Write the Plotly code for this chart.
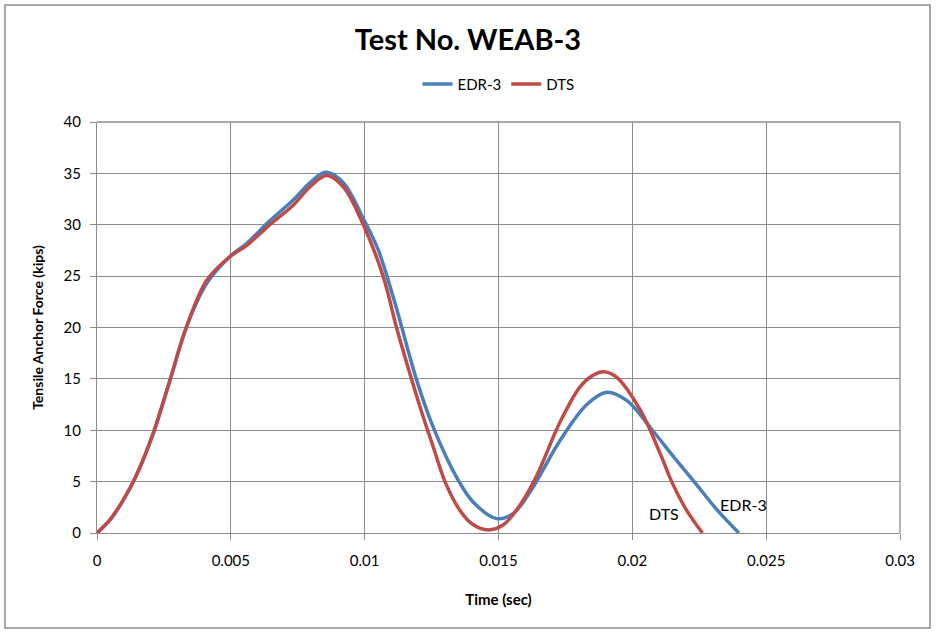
import plotly.graph_objects as go

# EDR-3 (blue) readings
edr_t = [0, 0.00049, 0.00098, 0.00145, 0.0021, 0.00273, 0.00335, 0.0041, 0.00497, 0.0056,
         0.00646, 0.00733, 0.00796, 0.00855, 0.0092, 0.00995, 0.0105, 0.01113,
         0.01194, 0.01256, 0.01344, 0.01406, 0.01493, 0.01555, 0.01618,
         0.0173, 0.0183, 0.01904, 0.01979, 0.02075, 0.02158,
         0.0224, 0.02315, 0.02398]
edr_f = [0, 1.3, 3.2, 5.5, 9.7, 14.9, 20.1, 24.3, 26.9, 28.2,
         30.4, 32.4, 34.1, 35.1, 34.1, 30.6, 27.6, 22.4,
         14.9, 10.3, 5.4, 3.0, 1.4, 1.9, 4.0,
         9.0, 12.5, 13.7, 12.9, 10.0, 7.3,
         4.7, 2.3, 0]

# DTS (red) readings
dts_t = [0, 0.00049, 0.00098, 0.00145, 0.0021, 0.00273, 0.00335, 0.0041, 0.00497, 0.0056,
         0.00646, 0.00733, 0.00796, 0.00858, 0.0092, 0.00995, 0.0107, 0.0112, 0.01176,
         0.01225, 0.01256, 0.013, 0.01356, 0.01406, 0.01462, 0.01518, 0.0158, 0.01643,
         0.0173, 0.01804, 0.0185, 0.01892, 0.0194, 0.02029, 0.02103, 0.02147, 0.02203,
         0.02262]
dts_f = [0, 1.3, 3.2, 5.5, 9.7, 14.9, 20.1, 24.6, 26.9, 28.0,
         30.0, 31.9, 33.7, 34.8, 33.7, 30.0, 24.9, 19.9, 14.9,
         10.8, 8.4, 5.0, 2.2, 0.8, 0.3, 0.8, 2.7, 5.6,
         10.8, 14.2, 15.3, 15.7, 15.2, 12.0, 7.8, 5.0, 2.2,
         0]

x_ticks = [0, 0.005, 0.01, 0.015, 0.02, 0.025, 0.03]
x_labels = ["0", "0.005", "0.01", "0.015", "0.02", "0.025", "0.03"]
y_ticks = [0, 5, 10, 15, 20, 25, 30, 35, 40]

FONT = "Lato"
GRID = "#8c8c8c"

fig = go.Figure()
fig.add_trace(go.Scatter(x=edr_t, y=edr_f, mode="lines", name="EDR-3",
                         line=dict(color="#4a7ebb", width=3.5, shape="spline", smoothing=1.0)))
fig.add_trace(go.Scatter(x=dts_t, y=dts_f, mode="lines", name="DTS",
                         line=dict(color="#be4b48", width=3.5, shape="spline", smoothing=1.0)))

fig.update_layout(
    width=936, height=634,
    margin=dict(l=97, r=36, t=122, b=101),
    paper_bgcolor="white", plot_bgcolor="white",
    font=dict(family=FONT, size=15, color="#000000"),
    title=dict(text="<b>Test No. WEAB-3</b>", x=0.5, xanchor="center", y=0.937, yanchor="middle",
               font=dict(family=FONT, size=29, color="#000000")),
    showlegend=True,
    legend=dict(orientation="h", x=0.5, xanchor="center", y=1.092, yanchor="middle",
                font=dict(family=FONT, size=15), traceorder="normal"),
    xaxis=dict(range=[0, 0.03], tickvals=x_ticks, ticktext=x_labels,
               showgrid=True, gridcolor=GRID, gridwidth=1.3,
               showline=True, linecolor=GRID, linewidth=1.3,
               ticks="outside", ticklen=6, tickcolor=GRID, ticklabelstandoff=8,
               tickfont=dict(family=FONT, size=15),
               title=dict(text="<b>Time (sec)</b>", font=dict(family=FONT, size=15), standoff=26),
               zeroline=False),
    yaxis=dict(range=[0, 40], tickvals=y_ticks,
               showgrid=True, gridcolor=GRID, gridwidth=1.3,
               showline=True, linecolor=GRID, linewidth=1.3,
               ticks="outside", ticklen=6, tickcolor=GRID, ticklabelstandoff=6,
               tickfont=dict(family=FONT, size=15),
               title=dict(text="<b>Tensile Anchor Force (kips)</b>", font=dict(family=FONT, size=14), standoff=16),
               zeroline=False),
    annotations=[
        dict(x=0.0212, y=1.9, xref="x", yref="y", text="DTS", showarrow=False,
             font=dict(family=FONT, size=16)),
        dict(x=0.02415, y=2.8, xref="x", yref="y", text="EDR-3", showarrow=False,
             font=dict(family=FONT, size=16)),
    ],
    shapes=[
        dict(type="rect", xref="paper", yref="paper", x0=-0.1146, x1=1.0374, y0=-0.2311, y1=1.2847,
             line=dict(color="#8c8c8c", width=1.5), fillcolor="rgba(0,0,0,0)", layer="below"),
        dict(type="line", xref="paper", yref="paper", x0=1, x1=1, y0=0, y1=1,
             line=dict(color=GRID, width=1.3)),
        dict(type="line", xref="paper", yref="paper", x0=0, x1=1, y0=1, y1=1,
             line=dict(color=GRID, width=1.3)),
    ],
)

fig.write_html("out.html")
